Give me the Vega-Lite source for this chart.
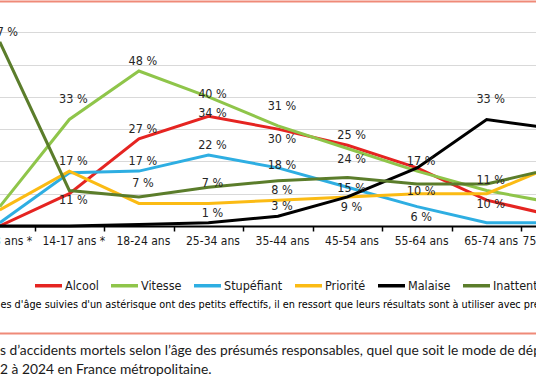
{
  "$schema": "https://vega.github.io/schema/vega-lite/v6.json",
  "width": 536,
  "height": 226,
  "autosize": {"type": "none"},
  "padding": {"left": 0, "top": 0, "right": 0, "bottom": 160},
  "background": "white",
  "config": {"view": {"stroke": null}},
  "data": {"values": [
    {"age": "0-13 ans *", "serie": "Alcool", "value": 0},
    {"age": "14-17 ans *", "serie": "Alcool", "value": 10},
    {"age": "18-24 ans", "serie": "Alcool", "value": 27},
    {"age": "25-34 ans", "serie": "Alcool", "value": 34},
    {"age": "35-44 ans", "serie": "Alcool", "value": 30},
    {"age": "45-54 ans", "serie": "Alcool", "value": 25},
    {"age": "55-64 ans", "serie": "Alcool", "value": 18},
    {"age": "65-74 ans", "serie": "Alcool", "value": 8},
    {"age": "75 ans et plus", "serie": "Alcool", "value": 3},
    {"age": "0-13 ans *", "serie": "Vitesse", "value": 6},
    {"age": "14-17 ans *", "serie": "Vitesse", "value": 33},
    {"age": "18-24 ans", "serie": "Vitesse", "value": 48},
    {"age": "25-34 ans", "serie": "Vitesse", "value": 40},
    {"age": "35-44 ans", "serie": "Vitesse", "value": 31},
    {"age": "45-54 ans", "serie": "Vitesse", "value": 24},
    {"age": "55-64 ans", "serie": "Vitesse", "value": 17},
    {"age": "65-74 ans", "serie": "Vitesse", "value": 11},
    {"age": "75 ans et plus", "serie": "Vitesse", "value": 7},
    {"age": "0-13 ans *", "serie": "Stupéfiant", "value": 1},
    {"age": "14-17 ans *", "serie": "Stupéfiant", "value": 16.5},
    {"age": "18-24 ans", "serie": "Stupéfiant", "value": 17},
    {"age": "25-34 ans", "serie": "Stupéfiant", "value": 22},
    {"age": "35-44 ans", "serie": "Stupéfiant", "value": 18},
    {"age": "45-54 ans", "serie": "Stupéfiant", "value": 12},
    {"age": "55-64 ans", "serie": "Stupéfiant", "value": 6},
    {"age": "65-74 ans", "serie": "Stupéfiant", "value": 1},
    {"age": "75 ans et plus", "serie": "Stupéfiant", "value": 1},
    {"age": "0-13 ans *", "serie": "Priorité", "value": 5},
    {"age": "14-17 ans *", "serie": "Priorité", "value": 17},
    {"age": "18-24 ans", "serie": "Priorité", "value": 7},
    {"age": "25-34 ans", "serie": "Priorité", "value": 7},
    {"age": "35-44 ans", "serie": "Priorité", "value": 8},
    {"age": "45-54 ans", "serie": "Priorité", "value": 9},
    {"age": "55-64 ans", "serie": "Priorité", "value": 10},
    {"age": "65-74 ans", "serie": "Priorité", "value": 10},
    {"age": "75 ans et plus", "serie": "Priorité", "value": 19},
    {"age": "0-13 ans *", "serie": "Malaise", "value": 0},
    {"age": "14-17 ans *", "serie": "Malaise", "value": 0},
    {"age": "18-24 ans", "serie": "Malaise", "value": 0.5},
    {"age": "25-34 ans", "serie": "Malaise", "value": 1},
    {"age": "35-44 ans", "serie": "Malaise", "value": 3},
    {"age": "45-54 ans", "serie": "Malaise", "value": 9},
    {"age": "55-64 ans", "serie": "Malaise", "value": 18},
    {"age": "65-74 ans", "serie": "Malaise", "value": 33},
    {"age": "75 ans et plus", "serie": "Malaise", "value": 30},
    {"age": "0-13 ans *", "serie": "Inattention", "value": 57},
    {"age": "14-17 ans *", "serie": "Inattention", "value": 11},
    {"age": "18-24 ans", "serie": "Inattention", "value": 9},
    {"age": "25-34 ans", "serie": "Inattention", "value": 12},
    {"age": "35-44 ans", "serie": "Inattention", "value": 14},
    {"age": "45-54 ans", "serie": "Inattention", "value": 15},
    {"age": "55-64 ans", "serie": "Inattention", "value": 13},
    {"age": "65-74 ans", "serie": "Inattention", "value": 13},
    {"age": "75 ans et plus", "serie": "Inattention", "value": 18}
  ]},
  "resolve": {"axis": {"x": "independent"}},
  "title": {
    "text": ["s d’accidents mortels selon l’âge des présumés responsables, quel que soit le mode de déplacement,", "2 à 2024 en France métropolitaine."],
    "orient": "bottom", "anchor": "start", "frame": "group", "align": "left",
    "font": "Lato", "fontSize": 13.8, "fontWeight": "normal", "color": "#1a1a1a",
    "offset": 11, "lineHeight": 19
  },
  "layer": [
    {
      "mark": {"type": "rule", "opacity": 0},
      "encoding": {
        "x": {"field": "age", "type": "nominal",
          "sort": ["0-13 ans *", "14-17 ans *", "18-24 ans", "25-34 ans", "35-44 ans", "45-54 ans", "55-64 ans", "65-74 ans", "75 ans et plus"],
          "axis": {"orient": "top", "offset": -1, "domainColor": "#ef8a78", "domainWidth": 2, "labels": false, "ticks": false, "title": null, "grid": false}}
      }
    },
    {
      "mark": {"type": "rule", "opacity": 0},
      "encoding": {
        "x": {"field": "age", "type": "nominal",
          "sort": ["0-13 ans *", "14-17 ans *", "18-24 ans", "25-34 ans", "35-44 ans", "45-54 ans", "55-64 ans", "65-74 ans", "75 ans et plus"],
          "axis": {"orient": "bottom", "offset": 107, "domainColor": "#ef8a78", "domainWidth": 2, "labels": false, "ticks": false, "title": null, "grid": false}}
      }
    },
    {
      "mark": {"type": "line", "strokeWidth": 3},
      "encoding": {
        "x": {"field": "age", "type": "nominal",
          "sort": ["0-13 ans *", "14-17 ans *", "18-24 ans", "25-34 ans", "35-44 ans", "45-54 ans", "55-64 ans", "65-74 ans", "75 ans et plus"],
          "scale": {"type": "band", "range": [-35, 591], "paddingInner": 0, "paddingOuter": 0},
          "axis": {"orient": "bottom", "tickBand": "extent", "ticks": true, "tickColor": "#000000", "tickSize": 5, "tickWidth": 1.5,
            "domainColor": "#000000", "domainWidth": 2, "labelAngle": 0,
            "labelFont": "Liberation Sans Narrow, DejaVu Sans Condensed, sans-serif", "labelFontSize": 12, "labelColor": "#1a1a1a",
            "labelPadding": 4, "labelOffset": 4, "labelOverlap": false, "grid": false,
            "title": "es d'âge suivies d'un astérisque ont des petits effectifs, il en ressort que leurs résultats sont à utiliser avec précaution.",
            "titleX": 0, "titleY": 81, "titleAlign": "left", "titleBaseline": "alphabetic",
            "titleFont": "Liberation Sans Narrow, DejaVu Sans Condensed, sans-serif", "titleFontSize": 10.8, "titleFontWeight": "normal", "titleColor": "#000000"}},
        "y": {"field": "value", "type": "quantitative",
          "scale": {"domain": [0, 70], "nice": false},
          "axis": {"values": [10, 20, 30, 40, 50, 60], "labels": false, "ticks": false, "domain": false, "grid": true, "gridColor": "#d9d9d9", "gridWidth": 1.2, "title": null}},
        "color": {"field": "serie", "type": "nominal",
          "scale": {"domain": ["Alcool", "Vitesse", "Stupéfiant", "Priorité", "Malaise", "Inattention"],
                    "range": ["#e52421", "#8fc54a", "#2eaee2", "#fbbb14", "#000000", "#5b7d2b"]},
          "legend": {"orient": "none", "legendX": 33, "legendY": 270, "direction": "horizontal", "title": null,
            "symbolType": "stroke", "symbolSize": 729, "symbolStrokeWidth": 3.5,
            "labelFont": "Liberation Sans Narrow, DejaVu Sans Condensed, sans-serif", "labelFontSize": 12.5, "labelColor": "#1a1a1a",
            "labelOffset": 1, "columnPadding": 5, "padding": 0, "labelLimit": 200}}
      }
    },
    {
      "transform": [
        {"filter": "indexof(['Vitesse|14-17 ans *', 'Vitesse|35-44 ans', 'Priorité|18-24 ans', 'Priorité|25-34 ans', 'Malaise|65-74 ans'], datum.serie + '|' + datum.age) >= 0"},
        {"calculate": "datum.value + ' %'", "as": "label"}
      ],
      "mark": {"type": "text", "dx": 4, "dy": -20, "font": "Liberation Sans Narrow, DejaVu Sans Condensed, sans-serif", "fontSize": 12.5, "color": "#262626"},
      "encoding": {
        "x": {"field": "age", "type": "nominal", "sort": ["0-13 ans *", "14-17 ans *", "18-24 ans", "25-34 ans", "35-44 ans", "45-54 ans", "55-64 ans", "65-74 ans", "75 ans et plus"], "axis": null},
        "y": {"field": "value", "type": "quantitative"},
        "text": {"field": "label"}
      }
    },
    {
      "transform": [
        {"filter": "indexof(['Inattention|0-13 ans *', 'Vitesse|18-24 ans', 'Alcool|18-24 ans', 'Alcool|45-54 ans', 'Priorité|14-17 ans *', 'Stupéfiant|18-24 ans', 'Stupéfiant|25-34 ans', 'Malaise|25-34 ans', 'Priorité|35-44 ans', 'Malaise|35-44 ans', 'Vitesse|55-64 ans', 'Vitesse|65-74 ans'], datum.serie + '|' + datum.age) >= 0"},
        {"calculate": "datum.value + ' %'", "as": "label"}
      ],
      "mark": {"type": "text", "dx": 4, "dy": -10, "font": "Liberation Sans Narrow, DejaVu Sans Condensed, sans-serif", "fontSize": 12.5, "color": "#262626"},
      "encoding": {
        "x": {"field": "age", "type": "nominal", "sort": ["0-13 ans *", "14-17 ans *", "18-24 ans", "25-34 ans", "35-44 ans", "45-54 ans", "55-64 ans", "65-74 ans", "75 ans et plus"], "axis": null},
        "y": {"field": "value", "type": "quantitative"},
        "text": {"field": "label"}
      }
    },
    {
      "transform": [
        {"filter": "indexof(['Vitesse|25-34 ans', 'Alcool|25-34 ans', 'Stupéfiant|35-44 ans', 'Priorité|55-64 ans'], datum.serie + '|' + datum.age) >= 0"},
        {"calculate": "datum.value + ' %'", "as": "label"}
      ],
      "mark": {"type": "text", "dx": 4, "dy": -3, "font": "Liberation Sans Narrow, DejaVu Sans Condensed, sans-serif", "fontSize": 12.5, "color": "#262626"},
      "encoding": {
        "x": {"field": "age", "type": "nominal", "sort": ["0-13 ans *", "14-17 ans *", "18-24 ans", "25-34 ans", "35-44 ans", "45-54 ans", "55-64 ans", "65-74 ans", "75 ans et plus"], "axis": null},
        "y": {"field": "value", "type": "quantitative"},
        "text": {"field": "label"}
      }
    },
    {
      "transform": [
        {"filter": "indexof(['Alcool|35-44 ans', 'Vitesse|45-54 ans', 'Inattention|14-17 ans *', 'Inattention|45-54 ans', 'Malaise|45-54 ans', 'Stupéfiant|55-64 ans', 'Priorité|65-74 ans'], datum.serie + '|' + datum.age) >= 0"},
        {"calculate": "datum.value + ' %'", "as": "label"}
      ],
      "mark": {"type": "text", "dx": 4, "dy": 10, "font": "Liberation Sans Narrow, DejaVu Sans Condensed, sans-serif", "fontSize": 12.5, "color": "#262626"},
      "encoding": {
        "x": {"field": "age", "type": "nominal", "sort": ["0-13 ans *", "14-17 ans *", "18-24 ans", "25-34 ans", "35-44 ans", "45-54 ans", "55-64 ans", "65-74 ans", "75 ans et plus"], "axis": null},
        "y": {"field": "value", "type": "quantitative"},
        "text": {"field": "label"}
      }
    }
  ]
}
